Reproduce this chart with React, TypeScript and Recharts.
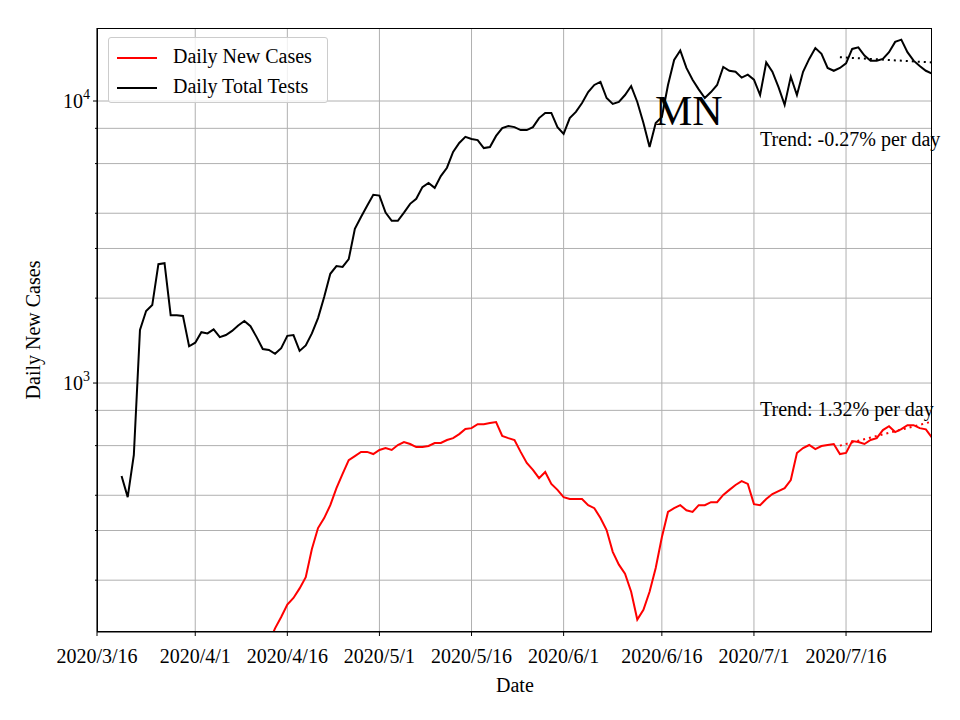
import React from "react";
import { LineChart, Line, XAxis, YAxis, CartesianGrid } from "recharts";

const testDays = Array.from({ length: 133 }, (_, i) => i + 4);
const testValues = [468,394,556,1542,1800,1890,2640,2660,1740,1740,1730,1350,1390,1515,1500,1550,1455,1480,1530,1600,1660,1590,1455,1320,1310,1270,1330,1470,1480,1300,1360,1500,1700,2020,2440,2600,2580,2750,3520,3880,4250,4650,4620,4020,3760,3760,4020,4320,4500,4950,5120,4920,5420,5800,6600,7100,7460,7330,7270,6810,6870,7520,8020,8150,8080,7890,7890,8080,8700,9070,9070,8080,7650,8700,9150,9840,10760,11400,11700,10250,9760,9920,10500,11300,9920,8360,6870,8360,8780,11400,13980,15100,13100,11900,11000,10250,10760,11400,13200,12800,12700,12100,12400,11900,10500,13700,12700,11200,9690,12200,10500,12700,14100,15400,14700,13100,12800,13100,13600,15300,15500,14500,13900,13900,14100,14900,16200,16500,14900,13900,13300,12800,12500];
const caseDays = Array.from({ length: 109 }, (_, i) => i + 28);
const caseValues = [120,135,148,164,173,187,205,258,306,332,369,424,476,533,551,570,570,560,579,588,579,603,618,608,593,593,598,613,613,628,638,659,687,692,715,715,721,727,649,638,628,570,521,492,460,484,439,418,394,388,388,388,369,360,332,301,252,227,211,182,145,157,182,221,284,349,360,369,354,349,369,369,378,378,401,418,435,449,439,372,369,388,404,414,424,453,565,588,603,583,598,603,608,560,565,623,618,608,628,638,681,703,670,687,709,709,692,685,640];
const trendDays = [121, 136];
const trendTests = [14300, 13700];
const trendCases = [600, 730];
const xTicks = [0, 16, 31, 46, 61, 76, 92, 107, 122];
const xLabels = ["2020/3/16","2020/4/1","2020/4/16","2020/5/1","2020/5/16","2020/6/1","2020/6/16","2020/7/1","2020/7/16"];
const yTicks = [200,300,400,500,600,700,800,900,1000,2000,3000,4000,5000,6000,7000,8000,9000,10000];

const data: any[] = [];
for (let d = 0; d <= 136; d++) {
  const row: any = { day: d };
  const ti = testDays.indexOf(d); if (ti >= 0) row.tests = testValues[ti];
  const ci = caseDays.indexOf(d); if (ci >= 0) row.cases = caseValues[ci];
  const tr = trendDays.indexOf(d); if (tr >= 0) { row.tt = trendTests[tr]; row.tc = trendCases[tr]; }
  data.push(row);
}

const font = "'Liberation Serif', 'DejaVu Serif', serif";

const YTick = (p: any) => {
  const v = p.payload.value;
  const y = p.y;
  const major = v === 1000 || v === 10000;
  return (
    <g>
      <line x1={97} x2={97 - (major ? 4 : 2)} y1={y} y2={y} stroke="#000" />
      {major && (
        <text x={90} y={y + 7} textAnchor="end" fontFamily={font} fontSize={20} fill="#000">
          10<tspan dy={-9} fontSize={14}>{v === 1000 ? "3" : "4"}</tspan>
        </text>
      )}
    </g>
  );
};

const XTick = (p: any) => {
  const i = xTicks.indexOf(p.payload.value);
  return (
    <g>
      <line x1={p.x} x2={p.x} y1={632} y2={636} stroke="#000" />
      <text x={p.x} y={663} textAnchor="middle" fontFamily={font} fontSize={20} fill="#000">{xLabels[i]}</text>
    </g>
  );
};

const abs = (left: number, top: number, size: number, extra: any = {}): any => ({
  position: "absolute", left, top, fontFamily: font, fontSize: size, color: "#000", whiteSpace: "nowrap", lineHeight: 1, ...extra,
});

export default function App() {
  return (
    <div style={{ position: "absolute", left: 0, top: 0, width: 960, height: 720, background: "#fff" }}>
      <LineChart width={960} height={720} data={data} margin={{ top: 28, right: 28, left: 0, bottom: 0 }}>
        <CartesianGrid stroke="#b0b0b0" strokeWidth={1} verticalValues={xTicks} horizontalValues={yTicks} />
        <XAxis dataKey="day" type="number" domain={[0, 136]} ticks={xTicks} tick={XTick} tickLine={false} height={88} stroke="#000" allowDataOverflow />
        <YAxis scale="log" type="number" domain={[131, 18150]} ticks={yTicks} tick={YTick} tickLine={false} width={97} stroke="#000" allowDataOverflow />
        <Line dataKey="cases" stroke="#ff0000" strokeWidth={2} dot={false} isAnimationActive={false} />
        <Line dataKey="tests" stroke="#000" strokeWidth={2} dot={false} isAnimationActive={false} />
        <Line dataKey="tc" stroke="#ff0000" strokeWidth={2} strokeDasharray="2 4" dot={false} isAnimationActive={false} connectNulls />
        <Line dataKey="tt" stroke="#000" strokeWidth={2} strokeDasharray="2 4" dot={false} isAnimationActive={false} connectNulls />
      </LineChart>
      <div style={{ position: "absolute", left: 97, top: 28, width: 835, height: 604, border: "1px solid #000", boxSizing: "border-box", pointerEvents: "none" }} />
      <div style={abs(496, 675, 20)}>Date</div>
      <div style={abs(33, 330, 20, { transform: "translate(-50%,-50%) rotate(-90deg)" })}>Daily New Cases</div>
      <div style={abs(655, 90, 42)}>MN</div>
      <div style={abs(760, 129, 20)}>Trend: -0.27% per day</div>
      <div style={abs(760, 399, 20)}>Trend: 1.32% per day</div>
      <div style={{ position: "absolute", left: 108, top: 37, width: 220, height: 66, border: "1px solid #ccc", borderRadius: 3, background: "rgba(255,255,255,0.8)", boxSizing: "border-box" }}>
        <div style={abs(8, 8, 20)}><span style={{ display: "inline-block", width: 40, height: 2, background: "#f00", verticalAlign: "middle", marginRight: 16 }} />Daily New Cases</div>
        <div style={abs(8, 38, 20)}><span style={{ display: "inline-block", width: 40, height: 2, background: "#000", verticalAlign: "middle", marginRight: 16 }} />Daily Total Tests</div>
      </div>
    </div>
  );
}
